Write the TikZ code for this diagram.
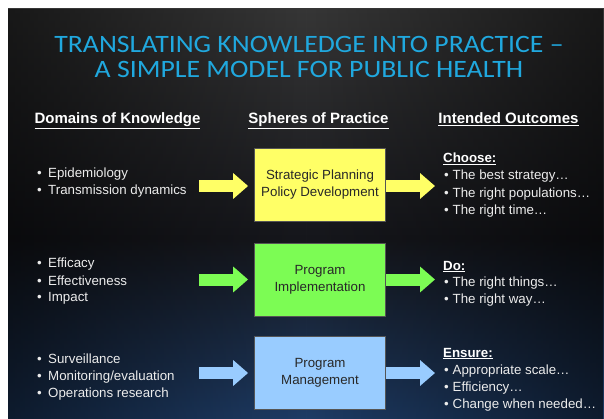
\documentclass[tikz,border=0pt]{standalone}
\usepackage{fontspec}
\setmainfont{Liberation Sans}
\newfontfamily\titlefont[FakeStretch=1.11]{Carlito}
\usetikzlibrary{arrows.meta,fadings}
\definecolor{bgtop}{RGB}{54,54,54}
\definecolor{bgmid}{RGB}{22,23,28}
\definecolor{bgbot}{RGB}{30,60,102}
\definecolor{titleblue}{RGB}{32,168,222}
\definecolor{txt}{RGB}{236,236,236}
\definecolor{boxtxt}{RGB}{40,40,40}
\definecolor{cyel}{RGB}{255,255,102}
\definecolor{cgrn}{RGB}{124,252,84}
\definecolor{cblu}{RGB}{153,204,255}
\definecolor{boxline}{RGB}{85,85,85}
\pgfdeclareverticalshading{bgsh}{100bp}{color(0bp)=(bgbot); color(25bp)=(bgbot); color(47bp)=(bgmid); color(75bp)=(bgtop); color(100bp)=(bgtop)}
\tikzfading[name=sidefade, left color=transparent!0, right color=transparent!0, middle color=transparent!100]
\newcommand{\bl}[1]{\makebox[11pt][l]{•}#1}
\newcommand{\br}[1]{\makebox[8.5pt][l]{•}#1}
\begin{document}
\begin{tikzpicture}[x=1pt,y=-1pt,
  hdr/.style={anchor=base, text=white, font=\fontsize{15}{18}\selectfont\bfseries},
  item/.style={anchor=base west, text=txt, font=\fontsize{13.3}{17}\selectfont, inner sep=0pt},
  sub/.style={anchor=base west, text=white, font=\fontsize{13.3}{17}\selectfont\bfseries, inner sep=0pt},
  sphere/.style={draw=boxline, line width=0.8pt, minimum width=131pt, minimum height=73pt, align=center, text=boxtxt, font=\fontsize{13.3}{17}\selectfont, inner sep=0pt},
  barrow/.style={line width=12pt, -{Triangle[length=15pt,width=25pt]}},
  titletxt/.style={anchor=base, text=titleblue, font=\titlefont\fontsize{25}{28}\selectfont}]
\useasboundingbox (0,0) rectangle (604,419);
\fill[white] (0,0) rectangle (604,419);
\fill[shading=bgsh] (8,9) rectangle (604,419);
\fill[black, opacity=0.55, path fading=sidefade] (8,9) rectangle (604,419);
% title
\node[titletxt] (t1) at (309,52.5) {TRANSLATING KNOWLEDGE INTO PRACTICE –};
\node[titletxt] (t2) at (309,77.5) {A SIMPLE MODEL FOR PUBLIC HEALTH};
% headers
\node[hdr] (h1) at (117.5,124) {\underline{Domains of Knowledge}};
\node[hdr] (h2) at (318.5,124) {\underline{Spheres of Practice}};
\node[hdr] (h3) at (508.5,124) {\underline{Intended Outcomes}};
% boxes
\node[sphere, fill=cyel] (b1) at (320,184.5) {Strategic Planning\\Policy Development};
\node[sphere, fill=cgrn] (b2) at (320,279.5) {Program\\Implementation};
\node[sphere, fill=cblu] (b3) at (320,373) {Program\\Management};
% left lists
\node[item] (l11) at (37,178) {\bl{Epidemiology}};
\node[item] (l12) at (37,195) {\bl{Transmission dynamics}};
\node[item] (l21) at (37,268) {\bl{Efficacy}};
\node[item] (l22) at (37,285) {\bl{Effectiveness}};
\node[item] (l23) at (37,301) {\bl{Impact}};
\node[item] (l31) at (37,363) {\bl{Surveillance}};
\node[item] (l32) at (37,380) {\bl{Monitoring/evaluation}};
\node[item] (l33) at (37,397) {\bl{Operations research}};
% right lists
\node[sub] (r10) at (443,163) {\underline{Choose:}};
\node[item] (r11) at (444,180) {\br{The best strategy…}};
\node[item] (r12) at (444,198) {\br{The right populations…}};
\node[item] (r13) at (444,215) {\br{The right time…}};
\node[sub] (r20) at (443,270) {\underline{Do:}};
\node[item] (r21) at (444,287) {\br{The right things…}};
\node[item] (r22) at (444,303) {\br{The right way…}};
\node[sub] (r30) at (443,357) {\underline{Ensure:}};
\node[item] (r31) at (444,374) {\br{Appropriate scale…}};
\node[item] (r32) at (444,391) {\br{Efficiency…}};
\node[item] (r33) at (444,408) {\br{Change when needed…}};
% arrow anchors
\coordinate (a1) at (199,186);
\coordinate (a2) at (199,279.5);
\coordinate (a3) at (199,373);
\coordinate (e1) at (435,186);
\coordinate (e2) at (435,279.5);
\coordinate (e3) at (435,373);
\draw[barrow, cyel, shorten >=6pt] (a1) -- (a1 -| b1.west);
\draw[barrow, cgrn, shorten >=6pt] (a2) -- (a2 -| b2.west);
\draw[barrow, cblu, shorten >=6pt] (a3) -- (a3 -| b3.west);
\draw[barrow, cyel] (e1 -| b1.east) -- (e1);
\draw[barrow, cgrn] (e2 -| b2.east) -- (e2);
\draw[barrow, cblu] (e3 -| b3.east) -- (e3);
\end{tikzpicture}
\end{document}
